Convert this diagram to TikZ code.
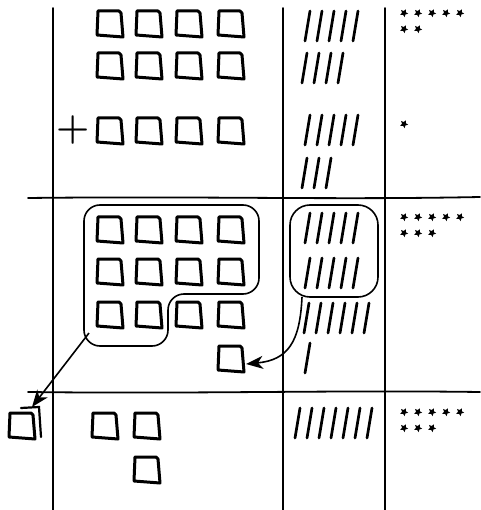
\documentclass[tikz,border=0pt]{standalone}
\usepackage{tikz}
\usetikzlibrary{arrows.meta}

\begin{document}
\begin{tikzpicture}[x=1pt, y=-1pt,
    gridline/.style={line width=1.8pt, line cap=round},
    sqline/.style={line width=3pt, line join=round, line cap=round},
    tally/.style={line width=2.7pt, line cap=round},
    ring/.style={line width=1.6pt, rounded corners=16pt},
    carryarrow/.style={line width=1.6pt, -{Stealth[length=17pt, width=13pt, inset=5pt]}},
    sq/.pic={\draw[sqline] (-12,-13) -- (9,-13) to[out=0, in=-90] (11,-11) -- (13,13) -- (-13,11) -- cycle;},
    st/.pic={\fill[rotate=8] (90:4.2) -- (126:2) -- (162:4.2) -- (198:2) -- (234:4.2) -- (270:2) -- (306:4.2) -- (342:2) -- (18:4.2) -- (54:2) -- cycle;}]
    \useasboundingbox (0,0) rectangle (480,510);
    \draw[gridline] (53,8) -- (53,510);
    \draw[gridline] (283,8) -- (283,510);
    \draw[gridline] (385,8) -- (385,510);
    \draw[gridline] (28,198) .. controls (200,196) and (330,200) .. (480,197);
    \draw[gridline] (28,392) .. controls (200,394) and (330,390) .. (480,392);
    \foreach \y in {24, 66, 131, 230, 272, 315} \foreach \x in {110, 149, 189, 231} \pic at (\x,\y) {sq};
    \foreach \x/\y in {231/359, 22/426, 105/426, 147/426, 147/470} \pic at (\x,\y) {sq};
    \draw[line width=2.2pt, line cap=round] (21,408) -- (39,407) -- (41,437);
    \node (plus) at (73,130) {\fontsize{38}{38}\selectfont\bfseries +};
    \foreach \x/\y/\n in {310/11/5, 307/53/4, 310/115/5, 307/158/3, 310/213/5, 310/258/5, 309/303/6, 310/343/1, 300/408/7}
        \foreach \k in {1,...,\n} \draw[tally] ({\x+12*(\k-1)},\y) -- ++(-5,30);
    \foreach \x/\y/\n in {404/13/5, 404/29/2, 404/124/1, 404/217/5, 404/233/3, 404/412/5, 404/428/3}
        \foreach \k in {1,...,\n} \pic at ({\x+14*(\k-1)},\y) {st};
    \draw[ring] (84,205) -- (259,205) -- (259,294) -- (168,294) -- (168,346) -- (84,346) -- cycle;
    \draw[ring, rounded corners=20pt] (290,205) rectangle (378,297);
    \coordinate (tens) at (89,333);
    \coordinate (hundred) at (32,407);
    \coordinate (tensring) at (302,297);
    \coordinate (newsq) at (246,364);
    \draw[carryarrow] (tens) -- (hundred);
    \draw[carryarrow] (tensring) .. controls (300,342) and (288,360) .. (newsq);
\end{tikzpicture}
\end{document}
